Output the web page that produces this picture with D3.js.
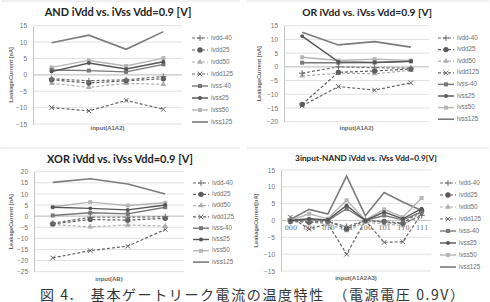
<!DOCTYPE html>
<html>
<head>
<meta charset="utf-8">
<script src="https://cdn.jsdelivr.net/npm/d3@7"></script>
<style>
  body { margin: 0; background: #fff; }
  svg { display: block; }
</style>
</head>
<body>
<svg id="fig" width="490" height="302"></svg>
<script>
// ---- data ----
const seriesNames = ["ivdd-40", "ivdd25", "ivdd50", "ivdd125", "ivss-40", "ivss25", "ivss50", "ivss125"];

const twoInputCats = ["00", "01", "10", "11"];
const threeInputCats = ["000", "001", "010", "011", "100", "101", "110", "111"];

const chartTitles = [
    "AND iVdd vs. iVss Vdd=0.9 [V]",
    "OR iVdd vs. iVss Vdd=0.9 [V]",
    "XOR iVdd vs. iVss Vdd=0.9 [V]",
    "3input-NAND iVdd vs. iVss Vdd=0.9[V]"
];
const xTitles = ["input(A1A2)", "input(A1A2)", "input(AB)", "input(A1A2A3)"];
const yTitles = ["LeakageCurrent [nA]", "LeakageCurrent [nA]", "LeakageCurrent [nA]", "LeakageCurrent[nA]"];
const yDomains = [[-15, 15], [-20, 15], [-25, 20], [-15, 15]];

// one row per series, same order as seriesNames
const andValues = [
    [-1.2, -1.8, -1.5, -0.5],
    [-1.5, -2.5, -1.8, -1.2],
    [-2.6, -3.8, -2.6, -2.9],
    [-10.0, -11.0, -7.8, -10.5],
    [1.5, 1.3, 0.9, 3.2],
    [1.0, 3.6, 1.8, 4.0],
    [2.3, 4.4, 2.7, 5.1],
    [9.8, 12.1, 7.8, 13.2]
];
const orValues = [
    [-2.3, 0.0, -0.3, -0.5],
    [-13.7, -2.0, -1.5, -0.8],
    [-3.3, -2.3, -2.5, -1.3],
    [-14.2, -7.2, -8.5, -5.8],
    [1.5, 1.5, 1.6, 2.0],
    [11.2, 1.8, 1.6, 2.0],
    [3.5, 2.3, 2.8, 2.3],
    [12.6, 8.0, 9.2, 7.2]
];
const xorValues = [
    [-3.2, -0.5, -0.5, -0.3],
    [-3.5, -1.5, -1.8, -1.0],
    [-3.8, -4.8, -4.0, -4.5],
    [-18.8, -15.5, -13.5, -6.0],
    [0.3, 1.5, 1.0, 4.0],
    [4.0, 3.5, 2.8, 5.0],
    [4.2, 6.3, 4.8, 6.0],
    [15.2, 16.8, 14.5, 10.0]
];
const nandValues = [
    [0.5, -0.5, -0.3, -1.8, 0.0, -0.5, -1.0, 1.5],
    [-0.3, -0.5, -0.2, -2.5, 0.0, -0.3, -0.8, 3.0],
    [0.2, -0.5, -1.0, -3.0, -0.5, -1.0, -1.5, 2.5],
    [1.0, -2.5, -1.0, -10.0, 0.0, -6.5, -6.3, 2.0],
    [-0.2, 0.3, 0.0, 3.5, 0.0, 1.5, 0.2, 2.5],
    [0.0, 0.5, 0.2, 4.5, 0.0, 2.5, 0.5, 3.5],
    [0.0, 2.0, 0.5, 6.0, 0.2, 3.3, 1.0, 6.7],
    [0.3, 3.3, 1.9, 13.2, 1.4, 8.3, 5.5, 3.0]
];

const caption = "図 4.\u3000基本ゲートリーク電流の温度特性\u3000（電源電圧 0.9V）";

// ---- layout & styles ----
const panels = [
    {cats: twoInputCats, values: andValues, left: 33, right: 182, top: 25.7, bottom: 124, catLabels: false,
        titleX: 118, titleY: 16, titleW: 147, legX: 192, legY: 38, legStep: 12, yTitleX: 12, xTitleY: 130, frameY: 1},
    {cats: twoInputCats, values: orValues, left: 284, right: 429, top: 25.7, bottom: 121.7, catLabels: false,
        titleX: 367, titleY: 16, titleW: 130, legX: 438, legY: 38, legStep: 11.6, yTitleX: 260, xTitleY: 130, frameY: 1},
    {cats: twoInputCats, values: xorValues, left: 34, right: 184, top: 171.7, bottom: 271.7, catLabels: false,
        titleX: 120, titleY: 162.7, titleW: 146, legX: 193, legY: 183, legStep: 11.3, yTitleX: 12, xTitleY: 281, frameY: 148},
    {cats: threeInputCats, values: nandValues, left: 281, right: 431, top: 170, bottom: 271, catLabels: true,
        titleX: 366, titleY: 161, titleW: 142, legX: 440, legY: 183, legStep: 12, yTitleX: 257, xTitleY: 280, frameY: 148}
];

const plusSym = d3.symbolPlus || d3.symbolCross;
const timesSym = d3.symbolTimes || d3.symbolCross;

const styles = {
    "ivdd-40": {color: "#6e6e6e", dash: "3,2", width: 1.2, sym: plusSym, size: 14, stroked: true},
    "ivdd25": {color: "#5c5c5c", dash: "3,2", width: 1.2, sym: d3.symbolCircle, size: 22, stroked: false},
    "ivdd50": {color: "#adadad", dash: "3,2", width: 1.2, sym: d3.symbolTriangle, size: 14, stroked: false},
    "ivdd125": {color: "#656565", dash: "3,2", width: 1.2, sym: timesSym, size: 16, stroked: true},
    "ivss-40": {color: "#777777", dash: null, width: 1.4, sym: d3.symbolSquare, size: 16, stroked: false},
    "ivss25": {color: "#555555", dash: null, width: 1.4, sym: d3.symbolCircle, size: 12, stroked: false},
    "ivss50": {color: "#b5b5b5", dash: null, width: 1.4, sym: d3.symbolSquare, size: 16, stroked: false},
    "ivss125": {color: "#7b7b7b", dash: null, width: 1.6, sym: null, size: 0, stroked: false}
};

const svg = d3.select("#fig");

function drawMarker(g, st, x, y) {
    if (!st.sym) return;
    const p = g.append("path")
        .attr("transform", `translate(${x},${y})`)
        .attr("d", d3.symbol().type(st.sym).size(st.size)());
    if (st.stroked && (d3.symbolPlus || d3.symbolTimes)) {
        p.attr("fill", "none").attr("stroke", st.color).attr("stroke-width", 1);
    } else {
        p.attr("fill", st.color);
        if (st.sym === d3.symbolCross && st.stroked && st === styles["ivdd125"]) {
            p.attr("transform", `translate(${x},${y}) rotate(45)`);
        }
    }
}

panels.forEach((pn, pi) => {
    const g = svg.append("g");

    // chart frame top edge
    const fx0 = pi % 2 === 0 ? 1 : 247;
    const fx1 = pi % 2 === 0 ? 240 : 489;
    g.append("line").attr("x1", fx0).attr("x2", fx1)
        .attr("y1", pn.frameY).attr("y2", pn.frameY)
        .attr("stroke", "#e3e3e3").attr("stroke-width", 1);

    const x = d3.scalePoint().domain(pn.cats).range([pn.left, pn.right]).padding(0.5);
    const y = d3.scaleLinear().domain(yDomains[pi]).range([pn.bottom, pn.top]);
    const ticks = d3.range(yDomains[pi][0], yDomains[pi][1] + 0.1, 5);

    // gridlines
    g.selectAll(".grid").data(ticks).join("line")
        .attr("x1", pn.left).attr("x2", pn.right)
        .attr("y1", d => y(d)).attr("y2", d => y(d))
        .attr("stroke", "#d9d9d9").attr("stroke-width", 0.8);

    // y axis
    const yAxis = d3.axisLeft(y).tickValues(ticks).tickSize(0).tickPadding(6);
    const ya = g.append("g").attr("transform", `translate(${pn.left},0)`).call(yAxis);
    ya.select(".domain").attr("stroke", "#c4c4c4");
    ya.selectAll("text").attr("font-family", "Liberation Sans, sans-serif")
        .attr("font-size", 6.5).attr("fill", "#707070");

    // category axis sits on zero
    const xAxis = d3.axisBottom(x).tickSize(0).tickPadding(5);
    const xa = g.append("g").attr("transform", `translate(0,${y(0)})`).call(xAxis);
    xa.select(".domain").attr("stroke", "#c4c4c4").attr("d", `M${pn.left},0H${pn.right}`);
    if (pn.catLabels) {
        xa.selectAll("text").attr("font-family", "DejaVu Serif, serif")
            .attr("font-size", 6.5).attr("fill", "#666");
    } else {
        xa.selectAll(".tick").remove();
    }

    // axis titles
    g.append("text").attr("x", (pn.left + pn.right) / 2).attr("y", pn.xTitleY)
        .attr("text-anchor", "middle").attr("font-family", "Liberation Sans, sans-serif")
        .attr("font-weight", "bold").attr("font-size", 6).attr("fill", "#666")
        .text(xTitles[pi]);
    g.append("text")
        .attr("transform", `translate(${pn.yTitleX},${(pn.top + pn.bottom) / 2}) rotate(-90)`)
        .attr("text-anchor", "middle").attr("dominant-baseline", "middle")
        .attr("font-family", "Liberation Sans, sans-serif")
        .attr("font-weight", "bold").attr("font-size", 5.6).attr("fill", "#666")
        .text(yTitles[pi]);

    // chart title, sized to the width it has in the figure
    const t = g.append("text").attr("x", pn.titleX).attr("y", pn.titleY)
        .attr("text-anchor", "middle").attr("font-family", "Lato, sans-serif")
        .attr("font-weight", "bold").attr("font-size", 12).attr("fill", "#222")
        .text(chartTitles[pi]);
    const w = t.node().getComputedTextLength();
    t.attr("font-size", 12 * pn.titleW / w);

    // series: solid ones drawn last so they sit on top
    const line = d3.line().x((d, i) => x(pn.cats[i])).y(d => y(d));
    const order = [3, 2, 1, 0, 7, 6, 4, 5];
    order.forEach(si => {
        const name = seriesNames[si];
        const st = styles[name];
        const vals = pn.values[si];
        g.append("path").datum(vals)
            .attr("d", line).attr("fill", "none")
            .attr("stroke", st.color).attr("stroke-width", st.width)
            .attr("stroke-dasharray", st.dash);
        const mg = g.append("g");
        vals.forEach((v, i) => drawMarker(mg, st, x(pn.cats[i]), y(v)));
    });

    // legend
    seriesNames.forEach((name, si) => {
        const st = styles[name];
        const ly = pn.legY + si * pn.legStep;
        g.append("line").attr("x1", pn.legX).attr("x2", pn.legX + 16)
            .attr("y1", ly).attr("y2", ly)
            .attr("stroke", st.color).attr("stroke-width", st.width)
            .attr("stroke-dasharray", st.dash);
        drawMarker(g, st, pn.legX + 8, ly);
        g.append("text").attr("x", pn.legX + 19).attr("y", ly)
            .attr("dominant-baseline", "middle")
            .attr("font-family", "Liberation Sans, sans-serif")
            .attr("font-size", 6.3).attr("fill", "#707070")
            .text(name);
    });
});

// figure caption
svg.append("text").attr("x", 40).attr("y", 299.5)
    .attr("font-family", "Noto Sans CJK JP, sans-serif")
    .attr("font-size", 14).attr("letter-spacing", 1.6).attr("fill", "#333")
    .attr("xml:space", "preserve")
    .text(caption);
</script>
</body>
</html>
